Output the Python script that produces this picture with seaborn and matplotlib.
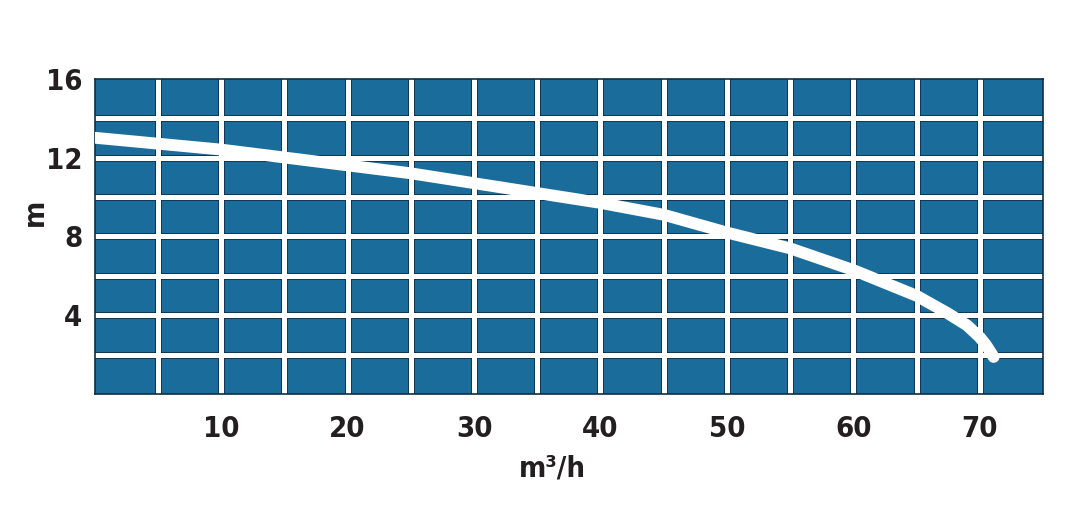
import matplotlib
matplotlib.use("Agg")
import matplotlib.pyplot as plt
import seaborn as sns
import numpy as np

# pump curve
flow = [0, 5, 10, 15, 20, 25, 30, 35, 40, 45, 50, 55, 60, 65, 67.5, 69, 70, 70.5, 71.1]
head = [13.0, 12.7, 12.4, 12.0, 11.6, 11.2, 10.7, 10.2, 9.7, 9.1, 8.2, 7.4, 6.3, 5.0, 4.1, 3.5, 2.9, 2.5, 1.9]

x_ticks = [10, 20, 30, 40, 50, 60, 70]
y_ticks = [4, 8, 12, 16]
x_grid = list(range(5, 75, 5))
y_grid = list(range(2, 16, 2))

sns.set_theme(style="white")
plt.rcParams['font.family'] = ['DejaVu Sans']
plt.rcParams['font.stretch'] = 'condensed'

blue = '#1a6d9b'
navy = '#0d2f48'
ink = '#231f20'

fig = plt.figure(figsize=(10.88, 5.22), dpi=100)
ax = fig.add_axes([0.0871, 0.2443, 0.8715, 0.6053])
ax.set_facecolor(blue)

for gx in x_grid:
    ax.axvline(gx, color=navy, lw=4.8, zorder=1)
    ax.axvline(gx, color='white', lw=3.6, zorder=1.1)
for gy in y_grid:
    ax.axhline(gy, color=navy, lw=4.8, zorder=1)
    ax.axhline(gy, color='white', lw=3.6, zorder=1.1)

sns.lineplot(x=flow, y=head, color='white', lw=8.5, ax=ax, zorder=3,
             solid_capstyle='round', solid_joinstyle='round')

ax.set_xlim(0, 75)
ax.set_ylim(0, 16)
ax.set_xticks(x_ticks)
ax.set_yticks(y_ticks)
ax.tick_params(axis='both', length=0, labelsize=21, labelcolor=ink)
ax.tick_params(axis='x', pad=15)
ax.tick_params(axis='y', pad=9)
for lab in ax.get_xticklabels() + ax.get_yticklabels():
    lab.set_fontweight('bold')
    lab.set_fontstretch('condensed')

for sp in ax.spines.values():
    sp.set_color(navy)
    sp.set_linewidth(1.2)

ax.set_xlabel('m³/h', fontsize=21, fontweight='bold', color=ink, fontstretch='condensed')
ax.set_ylabel('m', fontsize=21, fontweight='bold', color=ink, fontstretch='condensed')
ax.xaxis.set_label_coords(0.483, -0.233)
ax.xaxis.label.set_va('center')
ax.yaxis.set_label_coords(-0.063, 0.575)
ax.yaxis.label.set_va('center')

fig.savefig('out.png', dpi=100)
